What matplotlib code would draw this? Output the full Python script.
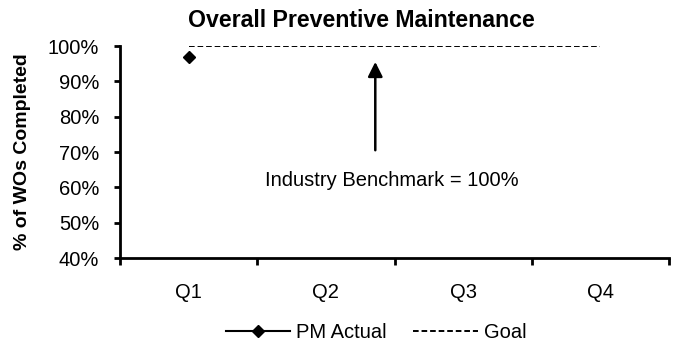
import matplotlib
matplotlib.use("Agg")
import matplotlib.pyplot as plt
from matplotlib.lines import Line2D
import numpy as np

plt.rcParams['font.family'] = ['Liberation Sans', 'DejaVu Sans']

categories = ["Q1", "Q2", "Q3", "Q4"]
pm_actual = [97, None, None, None]
goal = [100, 100, 100, 100]
yticks = [40, 50, 60, 70, 80, 90, 100]
ytick_labels = ["40%", "50%", "60%", "70%", "80%", "90%", "100%"]
annotation_text = "Industry Benchmark = 100%"

fig = plt.figure(figsize=(6.76, 3.48), dpi=100)
ax = fig.add_axes([120/676, 1-258/348, (669-120)/676, (258-46)/348])

x = np.arange(len(categories))
pm_x = [xi for xi, v in zip(x, pm_actual) if v is not None]
pm_y = [v for v in pm_actual if v is not None]
ax.plot(pm_x, pm_y, color='black', linewidth=1.5, marker='D', markersize=6)
ax.plot(x, goal, color='black', linestyle=(0, (2.9, 1.5)), linewidth=1.4)

ax.set_xlim(-0.5, len(categories) - 0.5)
ax.set_ylim(40, 100)
ax.set_yticks(yticks)
ax.set_yticklabels(ytick_labels, fontsize=14.5)
ax.set_xticks(x)
ax.set_xticklabels(categories, fontsize=14.5)
ax.set_xticks(np.arange(-0.5, len(categories), 1), minor=True)
ax.tick_params(axis='x', which='major', length=0, pad=18)
ax.tick_params(axis='x', which='minor', length=5, width=2, direction='out')
ax.tick_params(axis='y', which='major', length=4, width=2, direction='out', pad=11)

for s in ['top', 'right']:
    ax.spines[s].set_visible(False)
for s in ['left', 'bottom']:
    ax.spines[s].set_linewidth(2)

ax.set_ylabel("% of WOs Completed", fontsize=14, fontweight='bold', labelpad=12)
ax.set_title("Overall Preventive Maintenance", fontsize=16.7, fontweight='bold', pad=14, x=0.44)

ax.annotate("", xy=(1.36, 95.5), xytext=(1.36, 70.5),
            arrowprops=dict(arrowstyle='-|>', color='black', lw=1.8,
                            mutation_scale=22, shrinkA=0, shrinkB=0))
ax.text(1.48, 62, annotation_text, fontsize=14.5, ha='center', va='center')

handles = [Line2D([0], [0], color='black', lw=1.5, marker='D', markersize=6),
           Line2D([0], [0], color='black', lw=1.4, linestyle=(0, (2.9, 1.5)))]
fig.legend(handles, ["PM Actual", "Goal"], loc='center', bbox_to_anchor=(376/676, 1-333/348),
           ncol=2, frameon=False, fontsize=14.5, handlelength=3.2, columnspacing=1.3,
           handletextpad=0.3)

fig.savefig("out.png", dpi=100)
